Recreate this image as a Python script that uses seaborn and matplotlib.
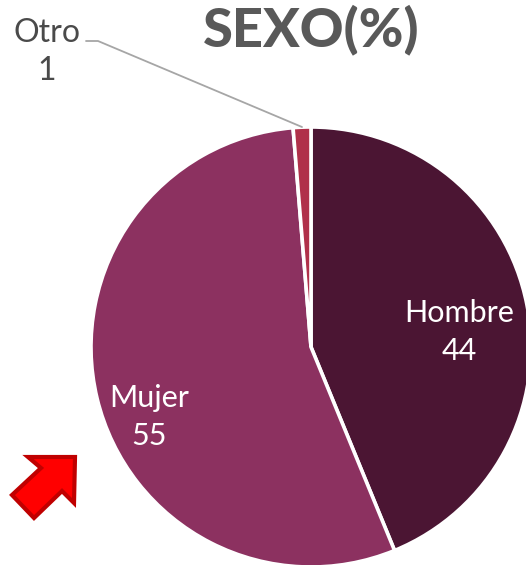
import numpy as np
import matplotlib.pyplot as plt
import seaborn as sns
from matplotlib.patches import Polygon

# =========================
# DATA
# =========================
labels = ["Hombre", "Mujer", "Otro"]
values = [43.8, 54.9, 1.3]
colors = ["#4b1533", "#8c3160", "#b0304a"]
title = "SEXO(%)"

sns.set_theme(style="white")
plt.rcParams["font.family"] = ["Lato", "DejaVu Sans"]

W, H = 526, 565
fig = plt.figure(figsize=(W / 100, H / 100), dpi=100)

# pie centre and radius in px
cx, cy, r = 311, 347, 220
ax = fig.add_axes([(cx - r) / W, 1 - (cy + r) / H, 2 * r / W, 2 * r / H])
ax.pie(values, colors=colors, startangle=90, counterclock=False, radius=1,
       wedgeprops={"edgecolor": "white", "linewidth": 2.6})
ax.set_xlim(-1, 1)
ax.set_ylim(-1, 1)

# full figure overlay in pixel coordinates for text and annotations
ov = fig.add_axes([0, 0, 1, 1])
ov.set_xlim(0, W)
ov.set_ylim(H, 0)
ov.axis("off")
ov.patch.set_alpha(0)

ov.text(311, 30, title, ha="center", va="center", fontsize=39, fontweight="black", color="#595959")
ov.text(459, 332, f"{labels[0]}\n{values[0]:.0f}", ha="center", va="center", fontsize=22, color="white", linespacing=1.4)
ov.text(149, 417, f"{labels[1]}\n{values[1]:.0f}", ha="center", va="center", fontsize=22, color="white", linespacing=1.45)
ov.text(47, 52, f"{labels[2]}\n{values[2]:.0f}", ha="center", va="center", fontsize=23, color="#4a4a4a", linespacing=1.35)

ov.plot([86, 98, 302], [41, 41, 127], color="#a6a6a6", lw=1.3)

# red arrow pointing up-right
arrow = [(75, 457), (74, 503), (62, 491), (34, 518), (12, 495), (41, 468), (28, 457)]
ov.add_patch(Polygon(arrow, closed=True, facecolor="#ff0000", edgecolor="#c00000", lw=3, joinstyle="miter"))

fig.savefig("out.png", dpi=100)
